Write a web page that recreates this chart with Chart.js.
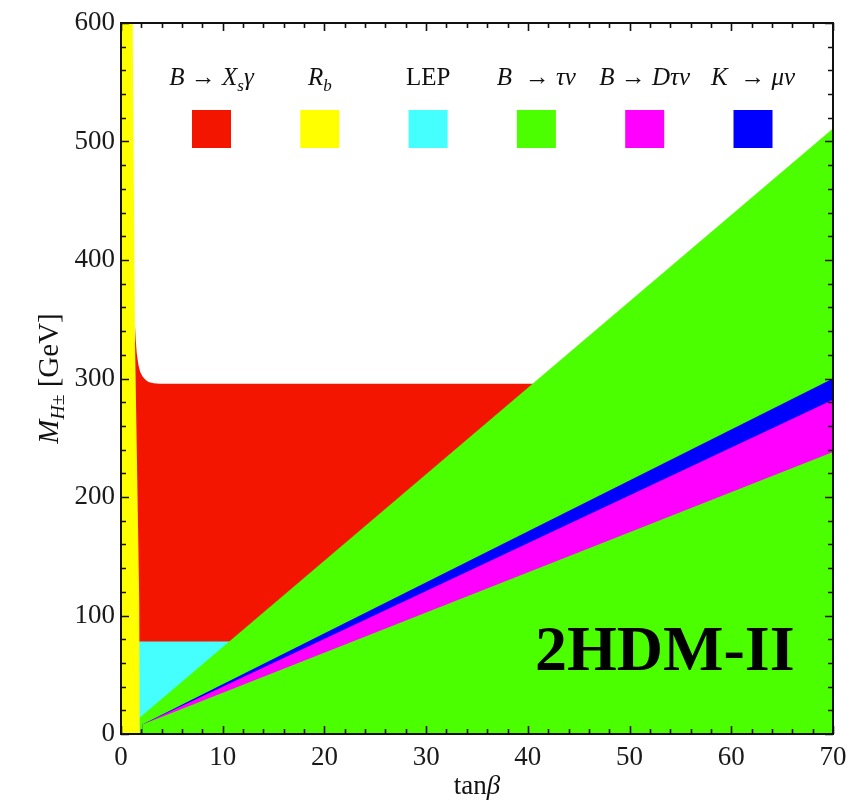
<!DOCTYPE html>
<html>
<head>
<meta charset="utf-8">
<script src="https://cdn.jsdelivr.net/npm/chart.js@4.4.1/dist/chart.umd.min.js"></script>
<style>
  html, body { margin: 0; padding: 0; background: #fff; }
</style>
</head>
<body>
<canvas id="myChart" width="862" height="808"></canvas>
<script>
// tick values
const xTicks = [0, 10, 20, 30, 40, 50, 60, 70];
const yTicks = [0, 100, 200, 300, 400, 500, 600];

// excluded regions, boundaries (tanβ, M_H± in GeV)
const rbX = [0, 1.15, 1.38, 1.8, 1.85];
const rbY = [600, 600, 330, 110, 0];

const bsgX = [1.38, 1.45, 1.55, 1.7, 1.87, 2.1, 2.4, 2.7, 3.2, 3.8, 70];
const bsgY = [345, 332, 321, 312, 306, 302, 299, 297, 296, 295.5, 295.5];

const lepX = [1.0, 70];
const lepY = [78, 78];

const btaunuUpperX = [1.85, 70];
const btaunuUpperY = [14, 511];

const kmunuX = [2.1, 70];
const kmunuY = [8, 300];

const bdtaunuX = [2.1, 70];
const bdtaunuY = [8, 282];

const btaunuLowerX = [2.1, 70];
const btaunuLowerY = [8, 238];

const legendNames = ['B → Xsγ', 'Rb', 'LEP', 'B → τν', 'B → Dτν', 'K → μν'];

const RED = '#f31500';
const YELLOW = '#ffff00';
const CYAN = '#45ffff';
const GREEN = '#4cff00';
const MAGENTA = '#ff00ff';
const BLUE = '#0000ff';
const legendColors = [RED, YELLOW, CYAN, GREEN, MAGENTA, BLUE];

// label pieces so subscripts / italics can be drawn
const legendParts = [
    [{t: 'B', it: 1}, {t: ' → '}, {t: 'X', it: 1}, {t: 's', it: 1, sub: 1}, {t: 'γ', it: 1}],
    [{t: 'R', it: 1}, {t: 'b', it: 1, sub: 1}],
    [{t: 'LEP'}],
    [{t: 'B', it: 1}, {t: '  → '}, {t: 'τν', it: 1}],
    [{t: 'B', it: 1}, {t: ' → '}, {t: 'Dτν', it: 1}],
    [{t: 'K', it: 1}, {t: '  → '}, {t: 'μν', it: 1}]
];

const SERIF = '"Liberation Serif", "Times New Roman", serif';

const pts = (xs, ys) => xs.map((x, i) => ({x: x, y: ys[i]}));

const region = (label, xs, ys, color, order) => ({
    label: label,
    data: pts(xs, ys),
    backgroundColor: color,
    borderColor: 'transparent',
    borderWidth: 0,
    pointRadius: 0,
    tension: 0,
    fill: 'origin',
    order: order
});

function drawRich(ctx, parts, x, y, size, align) {
    const fonts = parts.map(p => (p.it ? 'italic ' : '') + (p.sub ? size * 0.68 : size) + 'px ' + SERIF);
    let w = 0;
    parts.forEach((p, i) => { ctx.font = fonts[i]; w += ctx.measureText(p.t).width; });
    let cx = align === 'center' ? x - w / 2 : x;
    parts.forEach((p, i) => {
        ctx.font = fonts[i];
        ctx.fillText(p.t, cx, y + (p.sub ? size * 0.22 : 0));
        cx += ctx.measureText(p.t).width;
    });
}

const overlay = {
    id: 'overlay',
    afterDraw(chart) {
        const {ctx, chartArea: a, scales: {x, y}} = chart;
        ctx.save();
        ctx.textBaseline = 'alphabetic';

        // legend inside the plot
        legendParts.forEach((parts, i) => {
            const cx = a.left + 90.5 + i * 108.3;
            ctx.fillStyle = '#111';
            drawRich(ctx, parts, cx, 85, 25, 'center');
            ctx.fillStyle = legendColors[i];
            ctx.fillRect(cx - 19.5, 110, 39, 38);
        });

        // model label
        ctx.fillStyle = '#000';
        ctx.font = 'bold 64px ' + SERIF;
        ctx.textAlign = 'left';
        ctx.fillText('2HDM-II', 535, 670);

        // frame
        ctx.strokeStyle = '#111';
        ctx.lineWidth = 2;
        ctx.strokeRect(a.left, a.top, a.right - a.left, a.bottom - a.top);

        // inward ticks on all four sides
        ctx.lineWidth = 1.6;
        ctx.beginPath();
        for (let v = 0; v <= 70; v += 2) {
            const len = v % 10 === 0 ? 8 : 5;
            const px = Math.round(x.getPixelForValue(v)) + 0.5;
            ctx.moveTo(px, a.bottom); ctx.lineTo(px, a.bottom - len);
            ctx.moveTo(px, a.top); ctx.lineTo(px, a.top + len);
        }
        for (let v = 0; v <= 600; v += 20) {
            const len = v % 100 === 0 ? 8 : 5;
            const py = Math.round(y.getPixelForValue(v)) + 0.5;
            ctx.moveTo(a.left, py); ctx.lineTo(a.left + len, py);
            ctx.moveTo(a.right, py); ctx.lineTo(a.right - len, py);
        }
        ctx.stroke();

        // axis titles
        ctx.fillStyle = '#111';
        drawRich(ctx, [{t: 'tan'}, {t: 'β', it: 1}], (a.left + a.right) / 2, 794, 27, 'center');

        ctx.translate(58, (a.top + a.bottom) / 2);
        ctx.rotate(-Math.PI / 2);
        drawRich(ctx, [{t: 'M', it: 1}, {t: 'H', it: 1, sub: 1}, {t: '±', sub: 1}, {t: ' [GeV]'}], 0, 0, 29, 'center');
        ctx.restore();
    }
};

const ctx = document.getElementById('myChart').getContext('2d');

const myChart = new Chart(ctx, {
    type: 'line',
    data: {
        datasets: [
            region('Rb', rbX, rbY, YELLOW, 0),
            region('B → τν (lower)', btaunuLowerX, btaunuLowerY, GREEN, 1),
            region('B → Dτν', bdtaunuX, bdtaunuY, MAGENTA, 2),
            region('K → μν', kmunuX, kmunuY, BLUE, 3),
            region('B → τν', btaunuUpperX, btaunuUpperY, GREEN, 4),
            region('LEP', lepX, lepY, CYAN, 5),
            region('B → Xsγ', bsgX, bsgY, RED, 6)
        ]
    },
    options: {
        responsive: false,
        animation: false,
        events: [],
        layout: {
            padding: {left: 0, top: 23, right: 29, bottom: 0}
        },
        plugins: {
            legend: {display: false},
            tooltip: {enabled: false}
        },
        scales: {
            x: {
                type: 'linear',
                min: 0,
                max: 70,
                afterFit: s => { s.height = 74; },
                afterBuildTicks: s => { s.ticks = xTicks.map(v => ({value: v})); },
                grid: {display: false, drawTicks: false},
                border: {display: false},
                ticks: {
                    font: {family: SERIF, size: 27},
                    color: '#1a1a1a',
                    padding: 8,
                    maxRotation: 0
                }
            },
            y: {
                type: 'linear',
                min: 0,
                max: 600,
                afterFit: s => { s.width = 121; },
                afterBuildTicks: s => { s.ticks = yTicks.map(v => ({value: v})); },
                grid: {display: false, drawTicks: false},
                border: {display: false},
                ticks: {
                    font: {family: SERIF, size: 27},
                    color: '#1a1a1a',
                    padding: 6
                }
            }
        }
    },
    plugins: [overlay]
});
</script>
</body>
</html>
